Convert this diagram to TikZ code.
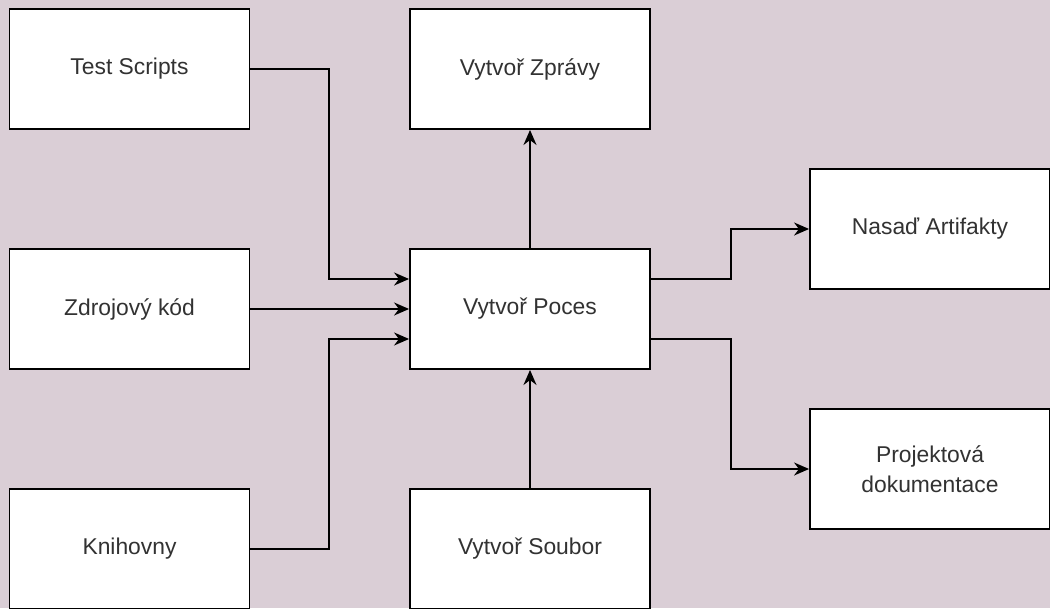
\documentclass[tikz,border=0pt]{standalone}
\usepackage{fontspec}
\setmainfont{Liberation Sans}
\usepackage{xcolor}
\usetikzlibrary{arrows.meta,positioning,calc}
\definecolor{canvas}{RGB}{218,206,214}
\definecolor{labeltext}{RGB}{50,50,50}

\begin{document}
\begin{tikzpicture}[
    x=0.02cm,y=-0.02cm,
    >={Stealth[length=3mm,width=2.6mm]},
    flow/.style={->,line width=1.1pt,draw=black},
    task/.style={draw=black,line width=1.1pt,fill=white,
      minimum width=4.8cm,minimum height=2.4cm,align=center,
      font=\fontsize{13}{17}\selectfont,text=labeltext}
  ]
    \useasboundingbox (0,0) rectangle (1050,608);
    \fill[canvas] (0,0) rectangle (1050,608);
    \clip (0,0) rectangle (1050,608);

    % inputs
    \node[task] (tests) at (129.5,69) {Test Scripts};
    \node[task] (zdroj) at (129.5,309) {Zdrojový kód};
    \node[task] (knih) at (129.5,549) {Knihovny};

    % middle column
    \node[task] (zpravy) at (530,69) {Vytvoř Zprávy};
    \node[task] (poces) at (530,309) {Vytvoř Poces};
    \node[task] (soubor) at (530,549) {Vytvoř Soubor};

    % outputs
    \node[task] (nasad) at (930,229) {Nasaď Artifakty};
    \node[task] (projekt) at (930,469) {Projektová\\dokumentace};

    \draw[flow] (tests.east) -- ++(79,0) |- ([yshift=6mm]poces.west);
    \draw[flow] (zdroj) -- (poces);
    \draw[flow] (knih.east) -- ++(79,0) |- ([yshift=-6mm]poces.west);
    \draw[flow] (soubor) -- (poces);
    \draw[flow] (poces) -- (zpravy);
    \draw[flow] ([yshift=6mm]poces.east) -- ++(80,0) |- (nasad.west);
    \draw[flow] ([yshift=-6mm]poces.east) -- ++(80,0) |- (projekt.west);
  \end{tikzpicture}
\end{document}
